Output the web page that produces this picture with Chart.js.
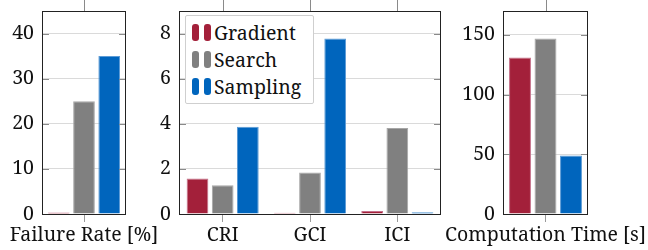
<!DOCTYPE html>
<html>
<head>
<meta charset="utf-8">
<script src="https://cdn.jsdelivr.net/npm/chart.js@4.4.0/dist/chart.umd.min.js"></script>
<style>
  body { margin: 0; background: #fff; }
  #wrap { position: relative; width: 648px; height: 250px; overflow: hidden; }
  canvas { position: absolute; top: 0; }
  #legend {
    position: absolute; left: 185px; top: 15px; width: 127px; height: 87px;
    border: 1px solid #cfcfcf; border-radius: 2px; background: #fff; z-index: 5;
    font-family: "Noto Serif", "Liberation Serif", serif; font-size: 19.5px; color: #111;
  }
  .row { position: absolute; left: 0; height: 27px; line-height: 27px; }
  .ico { position: absolute; top: 5px; width: 7px; height: 17px; border-radius: 3px; }
  .lab { position: absolute; left: 28px; top: 0; white-space: nowrap; }
</style>
</head>
<body>
<div id="wrap">
  <canvas id="failChart" width="168" height="250" style="left:0px"></canvas>
  <canvas id="metricChart" width="310" height="250" style="left:140px"></canvas>
  <canvas id="timeChart" width="208" height="250" style="left:440px"></canvas>
  <div id="legend"></div>
</div>
<script>
const methods = ['Gradient', 'Search', 'Sampling'];
const colors = ['#A3203A', '#808080', '#0065BD'];
const edges = ['#c5708a', '#a6a6a6', '#5c9bd6'];

const failLabels = ['Failure Rate [%]'];
const failGradient = [0.35];
const failSearch = [25];
const failSampling = [35];

const metricLabels = ['CRI', 'GCI', 'ICI'];
const metricGradient = [1.57, 0.05, 0.13];
const metricSearch = [1.28, 1.84, 3.81];
const metricSampling = [3.87, 7.78, 0.08];

const timeLabels = ['Computation Time [s]'];
const timeGradient = [131];
const timeSearch = [147];
const timeSampling = [49];

Chart.defaults.font.family = '"Noto Serif", "Liberation Serif", serif';
Chart.defaults.font.size = 19.5;
Chart.defaults.color = '#111';

// frame, inner y ticks and top x ticks like the original plot
const framePlugin = {
  id: 'frame',
  afterDraw(chart) {
    const ctx = chart.ctx;
    const a = chart.chartArea;
    const x = chart.scales.x, y = chart.scales.y;
    ctx.save();
    ctx.lineWidth = 1;
    ctx.strokeStyle = '#8a8a8a';
    ctx.beginPath();
    y.ticks.forEach(function(t, i) {
      const py = Math.round(y.getPixelForTick(i)) + 0.5;
      ctx.moveTo(a.left, py); ctx.lineTo(a.left + 7, py);
      ctx.moveTo(a.right - 7, py); ctx.lineTo(a.right, py);
    });
    x.ticks.forEach(function(t, i) {
      const px = Math.round(x.getPixelForTick(i)) + 0.5;
      ctx.moveTo(px, a.top); ctx.lineTo(px, a.top - 11);
    });
    ctx.stroke();
    ctx.strokeStyle = '#222';
    ctx.strokeRect(Math.round(a.left) + 0.5, Math.round(a.top) + 0.5,
      Math.round(a.right - a.left) - 1, Math.round(a.bottom - a.top));
    ctx.restore();
  }
};

function makeSets(values, catPct, barPct) {
  return values.map(function(v, i) {
    return {
      label: methods[i],
      data: v,
      backgroundColor: colors[i],
      borderColor: edges[i],
      borderWidth: 1,
      borderSkipped: 'bottom',
      categoryPercentage: catPct,
      barPercentage: barPct
    };
  });
}

function makeChart(id, labels, values, yMax, yStep, yWidth, padRight, catPct, barPct) {
  return new Chart(document.getElementById(id), {
    type: 'bar',
    data: { labels: labels, datasets: makeSets(values, catPct, barPct) },
    options: {
      responsive: false,
      animation: false,
      layout: { padding: { top: 11, right: padRight, left: 0, bottom: 0 } },
      plugins: { legend: { display: false }, tooltip: { enabled: false } },
      scales: {
        x: {
          grid: { drawOnChartArea: false, offset: false, tickLength: 8, color: '#9a9a9a' },
          border: { display: false },
          ticks: { autoSkip: false, maxRotation: 0, padding: 2 },
          afterFit: function(s) { s.height = 36; s.paddingLeft = 0; s.paddingRight = 0; }
        },
        y: {
          min: 0, max: yMax,
          grid: { drawTicks: false, color: '#dadada' },
          border: { display: false },
          ticks: { stepSize: yStep, includeBounds: false, padding: 8 },
          afterFit: function(s) { s.width = yWidth; s.paddingTop = 0; s.paddingBottom = 0; }
        }
      }
    },
    plugins: [framePlugin]
  });
}

makeChart('failChart', failLabels, [failGradient, failSearch, failSampling], 45, 10, 42, 42, 0.9, 0.86);
makeChart('metricChart', metricLabels, [metricGradient, metricSearch, metricSampling], 9, 2, 39, 9, 0.865, 0.863);
makeChart('timeChart', timeLabels, [timeGradient, timeSearch, timeSampling], 170, 50, 63, 60, 0.9, 0.86);

// legend box
const legend = document.getElementById('legend');
methods.forEach(function(m, i) {
  const row = document.createElement('div');
  row.className = 'row';
  row.style.top = (3 + i * 27) + 'px';
  row.innerHTML = '<span class="ico" style="left:6px;background:' + colors[i] + '"></span>' +
    '<span class="ico" style="left:18px;background:' + colors[i] + '"></span>' +
    '<span class="lab">' + m + '</span>';
  legend.appendChild(row);
});
</script>
</body>
</html>
